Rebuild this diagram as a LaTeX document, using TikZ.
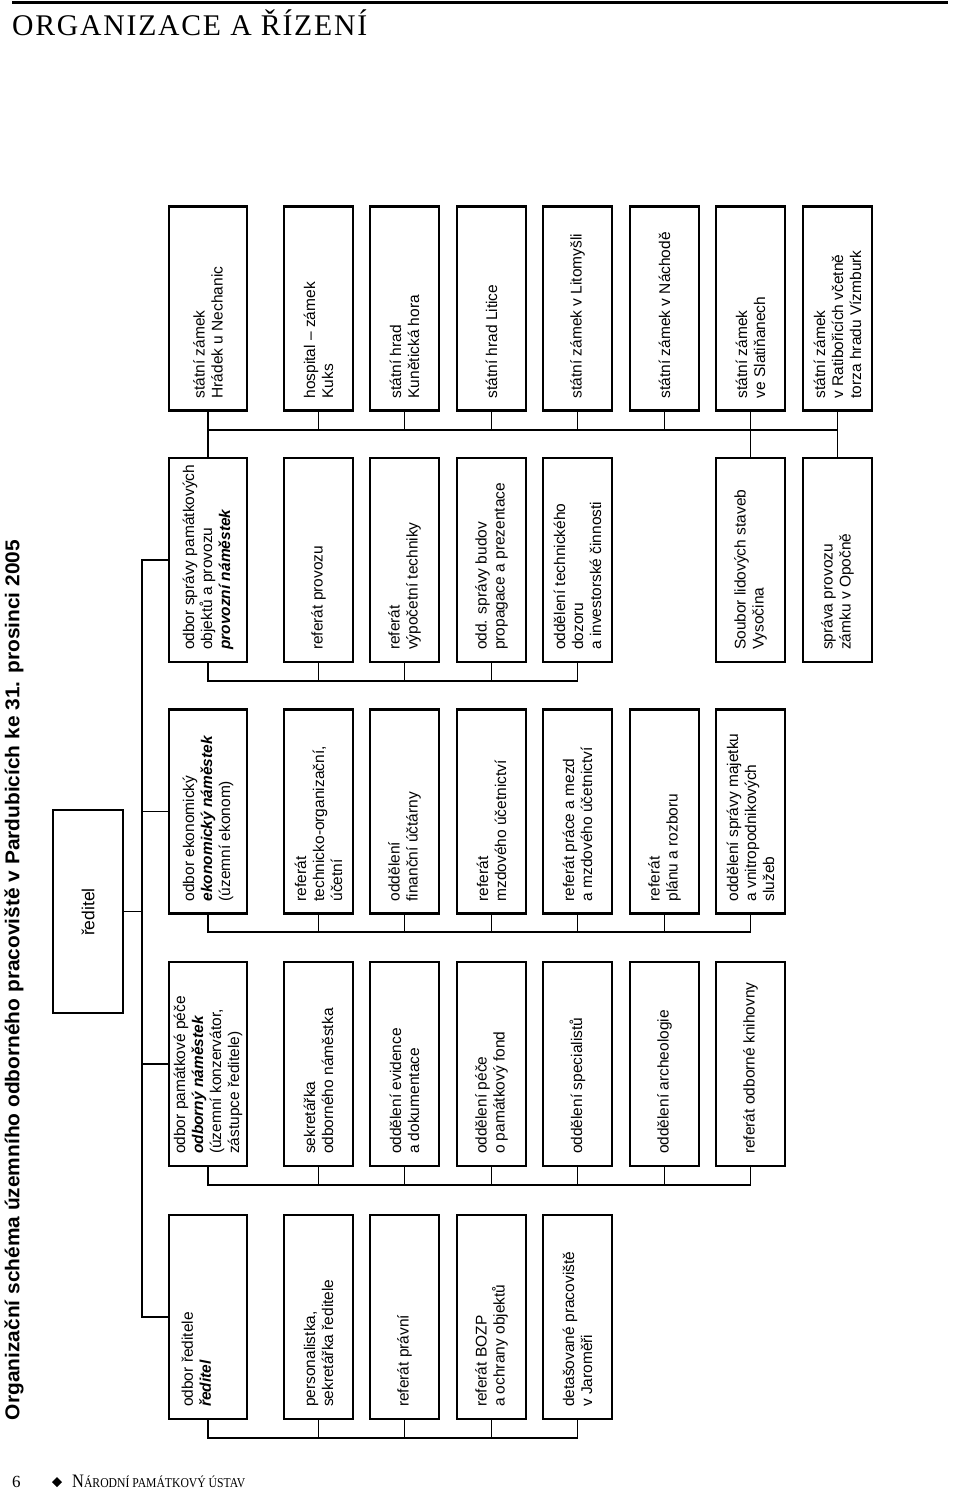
\documentclass[tikz,border=0pt]{standalone}
\usepackage{fontspec}
\usepackage{graphicx}
\usetikzlibrary{calc}
\newfontfamily\sansfam{Liberation Sans}
\newfontfamily\headfam[LetterSpace=6]{Liberation Serif}
\newfontfamily\footfam{Liberation Serif}
\newcommand\boxfont{\sansfam\fontsize{15.5}{18}\selectfont}
\newcommand\bi[1]{\textbf{\textit{#1}}}
\tikzset{
  frame/.style={draw, line width=2.2pt, rotate=90, inner sep=0pt, minimum width=204pt},
  rowone/.style={frame, minimum height=78pt},
  rowrest/.style={frame, minimum height=69pt},
  lbl/.style={rotate=90, anchor=west, align=left, inner sep=0pt, font=\boxfont},
  conn/.style={line width=1.2pt},
}
\newcommand\orgunit[5]{\node[#1] (#2) at (#3,#4) {}; \node[lbl] (#2-t) at ($(#2.west)+(0,-13)$) {#5};}
\begin{document}
\begin{tikzpicture}[x=1pt,y=-1pt]
\useasboundingbox (0,0) rectangle (960,1489);
% header / footer
\draw[line width=3pt] (12,2.5) -- (948,2.5);
\node[anchor=base west, inner sep=0pt] (head) at (12,35) {\resizebox{355pt}{\height}{\headfam\fontsize{30}{36}\selectfont ORGANIZACE A ŘÍZENÍ}};
\node[anchor=base west, inner sep=0pt] (pagenum) at (12,1487) {\footfam\fontsize{17}{20}\selectfont 6};
\fill (57,1477) -- (62,1482) -- (57,1487) -- (52,1482) -- cycle;
\node[anchor=base west, inner sep=0pt] (foot) at (72,1487) {\resizebox{173pt}{\height}{\footfam{\fontsize{19}{20}\selectfont N}\fontsize{13.5}{20}\selectfont ÁRODNÍ PAMÁTKOVÝ ÚSTAV}};
% title
\node[rotate=90, inner sep=0pt] (title) at (14,980) {\resizebox{880pt}{\height}{\sansfam\bfseries\fontsize{20}{24}\selectfont Organizační schéma územního odborného pracoviště v Pardubicích ke 31. prosinci 2005}};
% director
\node[frame, minimum width=203pt, minimum height=70pt] (reditel) at (88,911.5) {};
\node[rotate=90, inner sep=0pt, font=\sansfam\fontsize{17.5}{20}\selectfont] (reditel-t) at (88,912) {ředitel};
% column A
\orgunit{rowone}{hradek}{208}{308.5}{státní zámek\\Hrádek u Nechanic}
\orgunit{rowrest}{kuks}{318.5}{308.5}{hospital – zámek\\Kuks}
\orgunit{rowrest}{kunet}{404.5}{308.5}{státní hrad\\Kunětická hora}
\orgunit{rowrest}{litice}{491.5}{308.5}{státní hrad Litice}
\orgunit{rowrest}{litom}{577.5}{308.5}{státní zámek v Litomyšli}
\orgunit{rowrest}{nachod}{664.5}{308.5}{státní zámek v Náchodě}
\orgunit{rowrest}{slatin}{750.5}{308.5}{státní zámek\\ve Slatiňanech}
\orgunit{rowrest}{ratib}{837.5}{308.5}{státní zámek\\v Ratibořicích včetně\\torza hradu Vízmburk}
% column B
\orgunit{rowone}{spravy}{208}{560}{odbor správy památkových\\objektů a provozu\\\bi{provozní náměstek}}
\orgunit{rowrest}{provoz}{318.5}{560}{referát provozu}
\orgunit{rowrest}{vypoc}{404.5}{560}{referát\\výpočetní techniky}
\orgunit{rowrest}{budov}{491.5}{560}{odd. správy budov\\propagace a prezentace}
\orgunit{rowrest}{dozor}{577.5}{560}{oddělení technického\\dozoru\\a investorské činnosti}
\orgunit{rowrest}{soubor}{750.5}{560}{Soubor lidových staveb\\Vysočina}
\orgunit{rowrest}{opocno}{837.5}{560}{správa provozu\\zámku v Opočně}
% column C
\orgunit{rowone}{ekon}{208}{811.5}{odbor ekonomický\\\bi{ekonomický náměstek}\\(územní ekonom)}
\orgunit{rowrest}{techorg}{318.5}{811.5}{referát\\technicko-organizační,\\účetní}
\orgunit{rowrest}{fin}{404.5}{811.5}{oddělení\\finanční účtárny}
\orgunit{rowrest}{mzd}{491.5}{811.5}{referát\\mzdového účetnictví}
\orgunit{rowrest}{prace}{577.5}{811.5}{referát práce a mezd\\a mzdového účetnictví}
\orgunit{rowrest}{plan}{664.5}{811.5}{referát\\plánu a rozboru}
\orgunit{rowrest}{majetek}{750.5}{811.5}{oddělení správy majetku\\a vnitropodnikových\\služeb}
% column D
\orgunit{rowone}{pamat}{208}{1064}{odbor památkové péče\\\bi{odborný náměstek}\\(územní konzervátor,\\zástupce ředitele)}
\orgunit{rowrest}{sekr}{318.5}{1064}{sekretářka\\odborného náměstka}
\orgunit{rowrest}{evid}{404.5}{1064}{oddělení evidence\\a dokumentace}
\orgunit{rowrest}{pece}{491.5}{1064}{oddělení péče\\o památkový fond}
\orgunit{rowrest}{spec}{577.5}{1064}{oddělení specialistů}
\orgunit{rowrest}{arch}{664.5}{1064}{oddělení archeologie}
\orgunit{rowrest}{knih}{750.5}{1064}{referát odborné knihovny}
% column E
\orgunit{rowone}{odbred}{208}{1317}{odbor ředitele\\\bi{ředitel}\\\strut}
\orgunit{rowrest}{perso}{318.5}{1317}{personalistka,\\sekretářka ředitele}
\orgunit{rowrest}{pravni}{404.5}{1317}{referát právní}
\orgunit{rowrest}{bozp}{491.5}{1317}{referát BOZP\\a ochrany objektů}
\orgunit{rowrest}{detas}{577.5}{1317}{detašované pracoviště\\v Jaroměři}
% bus coordinates
\coordinate (busA) at (0,430);
\coordinate (busB) at (0,681);
\coordinate (busC) at (0,932);
\coordinate (busD) at (0,1185);
\coordinate (busE) at (0,1438);
\coordinate (mainbus) at (142,0);
% main connectors
\draw[conn] (reditel.south) -- (reditel.south -| mainbus);
\draw[conn] (spravy.north) -- (spravy.north -| mainbus) -- (odbred.north -| mainbus) -- (odbred.north);
\draw[conn] (ekon.north) -- (ekon.north -| mainbus);
\draw[conn] (pamat.north) -- (pamat.north -| mainbus);
% column A connectors
\draw[conn] (hradek.west) -- (spravy.east);
\draw[conn] (hradek.west |- busA) -- (ratib.west |- busA);
\foreach \n in {kuks,kunet,litice,litom,nachod} \draw[conn] (\n.west) -- (\n.west |- busA);
\draw[conn] (slatin.west) -- (soubor.east);
\draw[conn] (ratib.west) -- (opocno.east);
% column B
\draw[conn] (spravy.west) -- (spravy.west |- busB) -| (dozor.west);
\foreach \n in {provoz,vypoc,budov} \draw[conn] (\n.west) -- (\n.west |- busB);
% column C
\draw[conn] (ekon.west) -- (ekon.west |- busC) -| (majetek.west);
\foreach \n in {techorg,fin,mzd,prace,plan} \draw[conn] (\n.west) -- (\n.west |- busC);
% column D
\draw[conn] (pamat.west) -- (pamat.west |- busD) -| (knih.west);
\foreach \n in {sekr,evid,pece,spec,arch} \draw[conn] (\n.west) -- (\n.west |- busD);
% column E
\draw[conn] (odbred.west) -- (odbred.west |- busE) -| (detas.west);
\foreach \n in {perso,pravni,bozp} \draw[conn] (\n.west) -- (\n.west |- busE);
\end{tikzpicture}
\end{document}
